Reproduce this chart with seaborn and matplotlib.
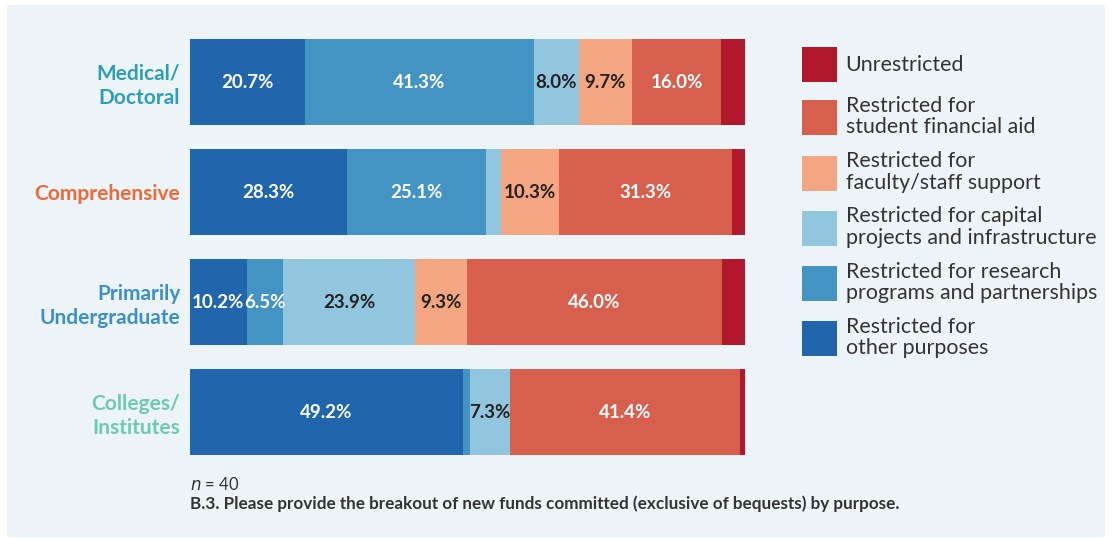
import numpy as np
import pandas as pd
import matplotlib.pyplot as plt
import seaborn as sns
from matplotlib.patches import Patch, Rectangle

# data (% of new funds committed)
categories = ["Medical/\nDoctoral", "Comprehensive", "Primarily\nUndergraduate", "Colleges/\nInstitutes"]
other_purposes = [20.7, 28.3, 10.2, 49.2]
research = [41.3, 25.1, 6.5, 1.2]
capital = [8.0, 2.7, 23.9, 7.3]
faculty = [9.7, 10.3, 9.3, 0.0]
student_aid = [16.0, 31.3, 46.0, 41.4]
unrestricted = [4.3, 2.3, 4.1, 0.9]

series_names = ["Restricted for\nother purposes",
                "Restricted for research\nprograms and partnerships",
                "Restricted for capital\nprojects and infrastructure",
                "Restricted for\nfaculty/staff support",
                "Restricted for\nstudent financial aid",
                "Unrestricted"]
series_values = [other_purposes, research, capital, faculty, student_aid, unrestricted]
series_colors = ["#2166ac", "#4393c3", "#92c5de", "#f4a582", "#d6604d", "#b2182b"]
text_colors = ["white", "white", "#222222", "#222222", "white", "white"]
cat_colors = ["#2e9eb6", "#f0673a", "#3d8fc7", "#6dc9b1"]

sns.set_style("white")
plt.rcParams["font.family"] = ["Lato", "DejaVu Sans"]

fig = plt.figure(figsize=(11.12, 5.42), dpi=100, facecolor="white")
fig.patches.append(Rectangle((7 / 1112, 5 / 542), 1098 / 1112, 532 / 542,
                             transform=fig.transFigure, facecolor="#edf4f8",
                             edgecolor="none", zorder=-10))
ax = fig.add_axes([190 / 1112, 1 - 467 / 542, 555 / 1112, 440 / 542])
ax.set_facecolor("none")

vals = np.array(series_values)
cum = vals.cumsum(axis=0)

# stacked bars: draw cumulative totals from the largest down
for i in range(len(series_names) - 1, -1, -1):
    sns.barplot(x=cum[i], y=categories, color=series_colors[i], orient="h",
                width=0.785, saturation=1, linewidth=0, errorbar=None, ax=ax)

for i in range(len(series_names)):
    for j in range(len(categories)):
        v = vals[i, j]
        if v >= 5:
            ax.text(cum[i, j] - v / 2, j, f"{v:.1f}%", ha="center", va="center",
                    fontsize=13.5, fontweight="bold", color=text_colors[i])

ax.set_xlim(0, 100)
ax.set_ylim(3.5, -0.5)
ax.set_xlabel("")
ax.set_ylabel("")
ax.set_xticks([])
sns.despine(ax=ax, left=True, bottom=True)
ax.tick_params(axis="y", length=0, pad=7)
for lbl, c in zip(ax.get_yticklabels(), cat_colors):
    lbl.set_color(c)
    lbl.set_fontsize(15)
    lbl.set_fontweight("bold")
    lbl.set_linespacing(1.25)

handles = [Patch(facecolor=series_colors[i], edgecolor="none", label=series_names[i])
           for i in range(len(series_names) - 1, -1, -1)]
leg = fig.legend(handles=handles, loc="upper left",
                 bbox_to_anchor=(802 / 1112, 1 - 47 / 542), frameon=False,
                 fontsize=15.4, handlelength=1.64, handleheight=2.14,
                 handletextpad=0.4, borderpad=0, borderaxespad=0,
                 labelspacing=0.64)
for t in leg.get_texts():
    t.set_color("#333333")
    t.set_linespacing(1.1)

fig.text(190 / 1112, 1 - 490 / 542, r"$n$ = 40", fontsize=12, color="#333333",
         va="baseline")
fig.text(190 / 1112, 1 - 509 / 542,
         "B.3. Please provide the breakout of new funds committed (exclusive of bequests) by purpose.",
         fontsize=12.35, fontweight="bold", color="#333333", va="baseline")

fig.savefig("out.png", dpi=100, facecolor="white")
